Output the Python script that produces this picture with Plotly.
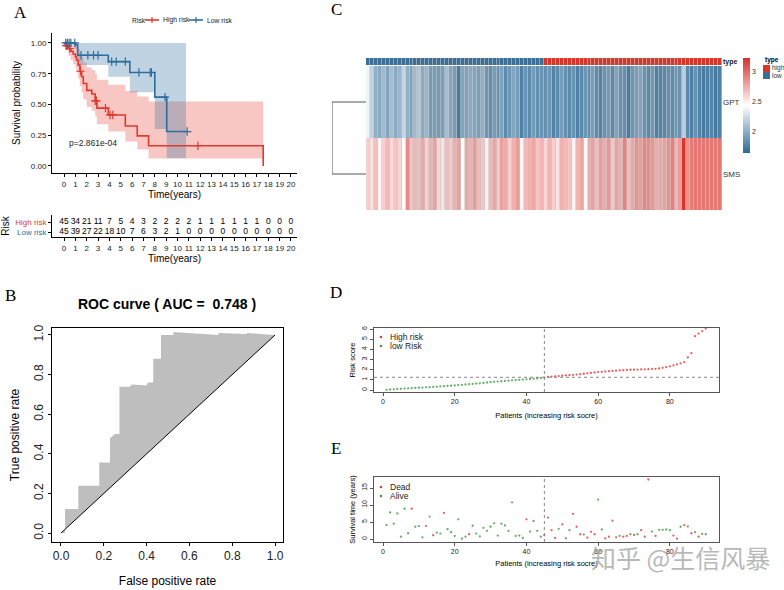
import numpy as np
import plotly.graph_objects as go

W, H = 784, 590
RED = '#DE3B2E'
BLUE = '#2E6E9E'
PT_RED = '#E23A3A'
PT_GREEN = '#3E9A45'
SANS = 'Liberation Sans'

# ---------------- A: Kaplan-Meier ----------------
high_time = [0, 0.1, 0.4, 0.6, 0.8, 1.0, 1.1, 1.25, 1.4, 1.55, 1.7, 2.0, 2.45, 2.75, 2.9, 3.9, 5.4, 6.45, 7.45, 17.55]
high_surv = [1.0, 0.978, 0.955, 0.933, 0.91, 0.887, 0.86, 0.82, 0.77, 0.725, 0.67, 0.615, 0.585, 0.53, 0.47, 0.415, 0.325, 0.245, 0.165, 0.0]
high_upper = [1.0, 1.0, 1.0, 1.0, 1.0, 1.0, 0.98, 0.95, 0.91, 0.88, 0.84, 0.80, 0.78, 0.75, 0.70, 0.66, 0.61, 0.565, 0.525, 0.525]
high_lower = [1.0, 0.94, 0.895, 0.86, 0.83, 0.80, 0.76, 0.71, 0.65, 0.60, 0.54, 0.48, 0.45, 0.40, 0.34, 0.28, 0.20, 0.135, 0.06, 0.06]
high_censor = [0.2, 0.3, 0.5, 1.45, 2.75, 2.85, 3.65, 4.05, 4.3, 11.8]

low_time = [0, 1.0, 1.2, 3.9, 5.8, 8.0, 9.05, 10.85]
low_surv = [1.0, 0.985, 0.90, 0.848, 0.76, 0.56, 0.28, 0.28]
low_band_time = [0, 1.0, 1.2, 3.9, 5.8, 8.0, 9.05, 10.75]
low_upper = [1.0, 1.0, 1.0, 1.0, 1.0, 1.0, 1.0, 1.0]
low_lower = [1.0, 0.95, 0.82, 0.726, 0.60, 0.30, 0.063, 0.063]
low_censor = [0.15, 0.3, 0.45, 0.6, 0.95, 1.5, 2.1, 2.6, 3.0, 4.2, 4.6, 5.4, 6.6, 7.6, 7.7, 8.9, 10.85]
p_text = 'p=2.861e-04'

# number at risk table
table_time = list(range(21))
high_at_risk = [45, 34, 21, 11, 7, 5, 4, 3, 2, 2, 2, 2, 1, 1, 1, 1, 1, 1, 0, 0, 0]
low_at_risk = [45, 39, 27, 22, 18, 10, 7, 6, 3, 2, 1, 0, 0, 0, 0, 0, 0, 0, 0, 0, 0]

# ---------------- B: ROC ----------------
roc_fpr = [0, 0.019, 0.019, 0.081, 0.081, 0.179, 0.179, 0.229, 0.229, 0.252, 0.273, 0.273, 0.322, 0.33,
           0.40, 0.405, 0.431, 0.431, 0.467, 0.467, 0.525, 0.525, 0.735, 0.735, 0.868, 0.868, 1.0]
roc_tpr = [0, 0, 0.121, 0.121, 0.239, 0.239, 0.356, 0.356, 0.479, 0.50, 0.50, 0.739, 0.739, 0.75,
           0.745, 0.76, 0.76, 0.88, 0.88, 1.0, 1.0, 1.015, 1.0, 1.01, 1.005, 1.01, 1.0]
auc = 0.748

# ---------------- C: heatmap ----------------
patients = list(range(1, 91))
risk_type = ['low'] * 45 + ['high'] * 45
gpt = [2.38, 2.20, 2.02, 1.99, 2.08, 1.97, 2.10, 1.99, 2.05, 2.22, 2.02, 1.95, 2.08, 2.14, 1.99,
       2.06, 1.92, 1.92, 1.91, 1.93, 2.10, 1.97, 1.92, 1.74, 1.97, 1.95, 1.99, 1.97, 1.93, 2.02,
       1.89, 1.85, 1.92, 1.87, 1.95, 1.82, 1.89, 1.97, 1.92, 1.77, 1.87, 1.82, 1.91, 1.85, 1.87,
       1.85, 1.89, 1.79, 1.83, 1.92, 1.85, 1.82, 1.87, 1.77, 1.82, 1.89, 1.85, 1.93, 1.83, 1.79,
       1.87, 1.91, 1.82, 1.95, 1.87, 1.85, 1.75, 1.89, 1.93, 1.97, 1.87, 1.82, 1.90, 1.77, 1.79,
       1.81, 1.85, 1.83, 1.89, 1.87, 2.18, 1.82, 1.77, 1.87, 1.79, 1.75, 1.77, 1.80, 1.74, 1.77]
sms = [2.62, 2.55, 2.68, 2.47, 2.62, 2.70, 2.58, 2.66, 2.60, 2.45, 2.88, 2.66, 2.72, 2.70, 2.78,
       2.62, 2.74, 2.80, 2.60, 2.55, 2.70, 2.65, 2.75, 2.80, 2.45, 2.78, 2.74, 2.82, 2.70, 2.66,
       2.50, 2.72, 2.78, 2.64, 2.80, 2.76, 2.62, 2.74, 2.82, 2.46, 2.70, 2.74, 2.78, 2.66, 2.72,
       2.60, 2.72, 2.62, 2.55, 2.74, 2.70, 2.66, 2.48, 2.72, 2.78, 2.46, 2.76, 2.80, 2.70, 2.82,
       2.76, 2.84, 2.66, 2.80, 2.74, 2.92, 2.70, 2.78, 2.86, 2.82, 2.90, 2.88, 2.84, 2.76, 2.78,
       2.80, 2.86, 2.92, 2.72, 2.82, 3.22, 2.86, 2.94, 2.96, 2.95, 2.96, 2.95, 2.96, 2.95, 2.96]
genes = ['SMS', 'GPT']
dendro_height = 1.0

# ---------------- D: risk score ----------------
risk_score = [0.02, 0.05, 0.07, 0.10, 0.12, 0.14, 0.16, 0.18, 0.20, 0.22,
              0.24, 0.26, 0.28, 0.30, 0.33, 0.35, 0.38, 0.40, 0.42, 0.45,
              0.48, 0.51, 0.54, 0.57, 0.60, 0.63, 0.66, 0.70, 0.74, 0.78,
              0.80, 0.83, 0.86, 0.89, 0.92, 0.95, 0.98, 1.00, 1.03, 1.05,
              1.08, 1.11, 1.14, 1.18, 1.22,
              1.28, 1.31, 1.34, 1.37, 1.40, 1.43, 1.46, 1.49, 1.52, 1.56,
              1.60, 1.64, 1.68, 1.72, 1.76, 1.79, 1.82, 1.85, 1.88, 1.90,
              1.93, 1.95, 1.97, 1.99, 2.00, 2.01, 2.02, 2.03, 2.04, 2.06,
              2.08, 2.12, 2.18, 2.25, 2.33, 2.42, 2.52, 2.62, 2.75, 3.20,
              3.62, 5.30, 5.55, 5.80, 6.05]

# ---------------- E: survival time / status ----------------
surv_time = [4.1, 7.8, 4.5, 7.5, 0.7, 8.9, 1.7, 8.9, 3.6, 3.8,
             0.5, 3.8, 6.6, 1.1, 1.9, 1.6, 7.7, 2.9, 2.0, 0.9,
             5.8, 0.1, 0.7, 1.4, 3.9, 1.6, 0.8, 3.3, 2.4, 3.6,
             4.6, 1.0, 4.5, 4.0, 2.4, 10.8, 0.9, 1.0, 0.3, 5.8,
             2.2, 5.3, 2.4, 0.7, 1.1, 6.3, 2.6, 0.3, 3.0, 4.3,
             0.2, 2.6, 7.4, 3.6, 1.4, 1.3, 0.4, 2.1, 1.4, 11.6,
             2.8, 0.2, 0.7, 5.4, 0.5, 0.9, 0.7, 0.9, 1.4, 1.2,
             1.4, 2.6, 0.7, 17.5, 2.2, 0.9, 2.7, 2.7, 2.8, 2.6,
             1.0, 0.1, 3.6, 4.1, 3.7, 1.7, 2.0, 0.7, 1.5, 1.4]
status = ['Alive', 'Alive', 'Alive', 'Alive', 'Alive', 'Alive', 'Alive', 'Dead', 'Alive', 'Alive',
          'Alive', 'Dead', 'Alive', 'Dead', 'Alive', 'Alive', 'Dead', 'Alive', 'Alive', 'Alive',
          'Alive', 'Alive', 'Alive', 'Dead', 'Alive', 'Alive', 'Alive', 'Alive', 'Alive', 'Alive',
          'Alive', 'Alive', 'Alive', 'Alive', 'Alive', 'Alive', 'Alive', 'Alive', 'Alive', 'Dead',
          'Alive', 'Alive', 'Alive', 'Alive', 'Dead', 'Dead', 'Dead', 'Dead', 'Alive', 'Dead',
          'Dead', 'Alive', 'Dead', 'Dead', 'Dead', 'Alive', 'Dead', 'Dead', 'Dead', 'Alive',
          'Alive', 'Dead', 'Dead', 'Dead', 'Dead', 'Alive', 'Dead', 'Dead', 'Alive', 'Dead',
          'Alive', 'Dead', 'Dead', 'Dead', 'Alive', 'Dead', 'Alive', 'Alive', 'Alive', 'Alive',
          'Dead', 'Dead', 'Alive', 'Dead', 'Alive', 'Dead', 'Alive', 'Dead', 'Alive', 'Alive']


def dx(a, b):
    return [a / W, b / W]


def dy(top, bottom):
    return [1 - bottom / H, 1 - top / H]


def step_value(times, surv, t):
    idx = np.searchsorted(times, t, side='right') - 1
    return [surv[i] for i in idx]


fig = go.Figure()

# ---- A: bands, curves, censor marks ----
for t, lo, up, fillc in [(high_time, high_lower, high_upper, 'rgba(231,70,55,0.30)'),
                         (low_band_time, low_lower, low_upper, 'rgba(46,110,158,0.30)')]:
    fig.add_trace(go.Scatter(x=t, y=lo, mode='lines', line=dict(width=0, shape='hv'), hoverinfo='skip'))
    fig.add_trace(go.Scatter(x=t, y=up, mode='lines', line=dict(width=0, shape='hv'),
                             fill='tonexty', fillcolor=fillc, hoverinfo='skip'))

for name, t, s, cens, col in [('High risk', high_time, high_surv, high_censor, RED),
                              ('Low risk', low_time, low_surv, low_censor, BLUE)]:
    fig.add_trace(go.Scatter(x=t, y=s, mode='lines', name=name,
                             line=dict(color=col, width=1.6, shape='hv')))
    fig.add_trace(go.Scatter(x=cens, y=step_value(t, s, cens), mode='markers',
                             marker=dict(symbol='cross-thin', size=6, line=dict(color=col, width=1.2))))

# risk table
for label, counts in [('High risk', high_at_risk), ('Low risk', low_at_risk)]:
    fig.add_trace(go.Scatter(x=table_time, y=[label] * len(counts), text=counts, mode='text',
                             textfont=dict(size=8.5, family=SANS, color='black'),
                             xaxis='x2', yaxis='y2', hoverinfo='skip'))

# ---- B: ROC ----
fig.add_trace(go.Scatter(x=roc_fpr + [0], y=roc_tpr + [0], mode='lines', fill='toself',
                         fillcolor='#BEBEBE', line=dict(width=0), xaxis='x3', yaxis='y3', hoverinfo='skip'))

# ---- C: heatmap ----
fig.add_trace(go.Heatmap(x=patients, y=genes, z=[sms, gpt], xaxis='x4', yaxis='y4', xgap=0.6,
                         zmin=1.65, zmax=3.23,
                         colorscale=[[0, '#2E6A95'], [0.5, '#FFFFFF'], [1, '#D7302A']],
                         colorbar=dict(x=743 / W, xanchor='left', y=1 - 58 / H, yanchor='top',
                                       xpad=0, ypad=0, len=95, lenmode='pixels', thickness=7,
                                       outlinewidth=0, tickvals=[2, 2.5, 3], ticks='',
                                       tickfont=dict(size=7, family=SANS, color='#333'))))
fig.add_trace(go.Heatmap(x=patients, y=['type'], z=[[1 if r == 'high' else 0 for r in risk_type]],
                         xaxis='x4', yaxis='y5', xgap=0.6, showscale=False, zmin=0, zmax=1,
                         colorscale=[[0, '#3A6E97'], [0.5, '#3A6E97'], [0.5, '#D6372B'], [1, '#D6372B']]))
fig.add_trace(go.Scatter(x=[0, dendro_height, dendro_height, 0], y=['GPT', 'GPT', 'SMS', 'SMS'],
                         mode='lines', line=dict(color='#555', width=1), xaxis='x5', yaxis='y4',
                         hoverinfo='skip'))

# ---- D: risk score ----
n_low = risk_type.count('low')
for sel, col in [(slice(n_low, None), PT_RED), (slice(0, n_low), PT_GREEN)]:
    fig.add_trace(go.Scatter(x=patients[sel], y=risk_score[sel], mode='markers',
                             marker=dict(color=col, size=2.3, opacity=0.8), xaxis='x6', yaxis='y6'))

# ---- E: survival status ----
for name, col in [('Dead', PT_RED), ('Alive', PT_GREEN)]:
    xs = [p for p, s in zip(patients, status) if s == name]
    ys = [t for t, s in zip(surv_time, status) if s == name]
    fig.add_trace(go.Scatter(x=xs, y=ys, mode='markers', name=name,
                             marker=dict(color=col, size=2.3, opacity=0.8), xaxis='x7', yaxis='y7'))

median_score = float(np.median(risk_score))


def px_line(x0, x1, y0, y1, col, width=1.6):
    return dict(type='line', xref='paper', yref='paper', x0=x0 / W, x1=x1 / W, y0=1 - y0 / H, y1=1 - y1 / H,
                line=dict(color=col, width=width))


def px_dot(x, y, col, r=1.3):
    return dict(type='circle', xref='paper', yref='paper', x0=(x - r) / W, x1=(x + r) / W,
                y0=1 - (y + r) / H, y1=1 - (y - r) / H, fillcolor=col, line=dict(width=0))


shapes = [
    dict(type='line', xref='x3', yref='y3', x0=0, y0=0, x1=1, y1=1, line=dict(color='black', width=1)),
    dict(type='rect', xref='x4 domain', yref='y4 domain', x0=0, x1=1, y0=0, y1=1,
         fillcolor='#C8C8C8', line=dict(width=0), layer='below'),
    dict(type='rect', xref='x4 domain', yref='y5 domain', x0=0, x1=1, y0=0, y1=1,
         fillcolor='#C8C8C8', line=dict(width=0), layer='below'),
    dict(type='line', xref='x6', yref='y6 domain', x0=n_low, x1=n_low, y0=0, y1=1,
         line=dict(color='#888', width=1, dash='dot')),
    dict(type='line', xref='x6 domain', yref='y6', x0=0, x1=1, y0=median_score, y1=median_score,
         line=dict(color='#888', width=1, dash='dot')),
    dict(type='line', xref='x7', yref='y7 domain', x0=n_low, x1=n_low, y0=0, y1=1,
         line=dict(color='#888', width=1, dash='dot')),
    # type legend keys
    dict(type='rect', xref='paper', yref='paper', x0=763 / W, x1=770 / W, y0=1 - 72 / H, y1=1 - 65 / H,
         fillcolor='#D6372B', line=dict(width=0)),
    dict(type='rect', xref='paper', yref='paper', x0=763 / W, x1=770 / W, y0=1 - 79 / H, y1=1 - 72 / H,
         fillcolor='#3A6E97', line=dict(width=0)),
    # KM legend keys (line with a censor cross)
    px_line(145, 159, 20, 20, RED), px_line(152, 152, 17, 23, RED, 1.2),
    px_line(189, 203, 20, 20, BLUE), px_line(196, 196, 17, 23, BLUE, 1.2),
    # D / E legend keys
    px_dot(381, 337, PT_RED), px_dot(381, 346, PT_GREEN),
    px_dot(381, 487, PT_RED), px_dot(381, 496, PT_GREEN),
]


def ann(text, x, y, size, **kw):
    d = dict(text=text, x=x / W, y=1 - y / H, xref='paper', yref='paper', showarrow=False,
             xanchor='center', yanchor='middle',
             font=dict(size=size, family=kw.pop('family', SANS), color=kw.pop('color', 'black')))
    d.update(kw)
    return d


annotations = [
    ann('A', 20, 12, 17, family='Liberation Serif'),
    ann('B', 10, 295, 17, family='Liberation Serif'),
    ann('C', 336, 10, 17, family='Liberation Serif'),
    ann('D', 336, 292, 17, family='Liberation Serif'),
    ann('E', 336, 448, 17, family='Liberation Serif'),
    dict(text=p_text, x=0.3, y=0.19, xref='x', yref='y', xanchor='left', yanchor='middle', showarrow=False,
         font=dict(size=8.5, family=SANS, color='#222')),
    ann('<b>ROC curve ( AUC =  %.3f )</b>' % auc, 167, 304, 14),
    ann('<b>type</b>', 763, 60, 6.5, xanchor='left'),
    ann('high', 770, 68, 6.5, xanchor='left', color='#333'),
    ann('low', 770, 76, 6.5, xanchor='left', color='#333'),
    # KM legend
    ann('Risk', 130, 20, 6.8, xanchor='left', color='#222'),
    ann('High risk', 161, 20, 6.8, xanchor='left', color='#222'),
    ann('Low risk', 205, 20, 6.8, xanchor='left', color='#222'),
    # D / E legends
    ann('High risk', 388, 337, 8.5, xanchor='left', color='#222'),
    ann('low Risk', 388, 346, 8.5, xanchor='left', color='#222'),
    ann('Dead', 388, 487, 8.5, xanchor='left', color='#222'),
    ann('Alive', 388, 496, 8.5, xanchor='left', color='#222'),
    ann('知乎 @生信风暴', 680, 557, 25, family='Noto Sans CJK SC', color='rgba(165,165,165,0.8)'),
]

ax = dict(showline=True, linecolor='black', linewidth=1, ticks='outside', ticklen=3,
          tickcolor='black', showgrid=False, zeroline=False)
box = dict(ax, mirror=True, linecolor='#555', tickcolor='#555')
hidden = dict(visible=False, showgrid=False, zeroline=False)
small_font = dict(size=7, family=SANS, color='#222')

fig.update_layout(
    width=W, height=H, margin=dict(l=0, r=0, t=0, b=0), template='none',
    paper_bgcolor='white', plot_bgcolor='rgba(0,0,0,0)', font=dict(family=SANS, color='black'),
    showlegend=False,
    xaxis=dict(ax, domain=dx(52, 297), range=[-1.06, 20.53], anchor='y', tickvals=table_time, tickangle=0,
               tickfont=dict(size=8, color='#222'),
               title=dict(text='Time(years)', font=dict(size=10), standoff=1)),
    yaxis=dict(ax, domain=dy(33, 173), range=[-0.057, 1.081], anchor='x',
               tickvals=[0, 0.25, 0.5, 0.75, 1.0], tickformat='.2f', tickfont=dict(size=8, color='#222'),
               title=dict(text='Survival probability', font=dict(size=10), standoff=8)),
    xaxis2=dict(ax, domain=dx(52, 297), range=[-1.06, 20.53], anchor='y2', tickvals=table_time, tickangle=0,
                tickfont=dict(size=8, color='#222'),
                title=dict(text='Time(years)', font=dict(size=10), standoff=1)),
    yaxis2=dict(ax, domain=dy(215, 237), range=[-0.5, 1.7], anchor='x2', type='category',
                categoryorder='array', categoryarray=['Low risk', 'High risk'],
                tickvals=['High risk', 'Low risk'],
                ticktext=['<span style="color:%s">High risk</span>' % RED,
                          '<span style="color:%s">Low risk</span>' % BLUE],
                tickfont=dict(size=8),
                title=dict(text='Risk', font=dict(size=10), standoff=3)),
    xaxis3=dict(box, linecolor='black', tickcolor='black', domain=dx(52, 283), range=[-0.042, 1.037],
                anchor='y3', tickvals=[0, 0.2, 0.4, 0.6, 0.8, 1.0], tickformat='.1f', ticklen=3,
                tickfont=dict(size=12, color='#222'),
                title=dict(text='False positive rate', font=dict(size=12), standoff=14)),
    yaxis3=dict(box, linecolor='black', tickcolor='black', domain=dy(328, 542), range=[-0.045, 1.035],
                anchor='x3', tickvals=[0, 0.2, 0.4, 0.6, 0.8, 1.0], tickformat='.1f', ticklen=3,
                tickangle=-90, tickfont=dict(size=12, color='#222'),
                title=dict(text='True positive rate', font=dict(size=12), standoff=10)),
    xaxis4=dict(hidden, domain=dx(366, 722), range=[0.5, 90.5], anchor='y4'),
    yaxis4=dict(domain=dy(66, 210), anchor='x4', side='right', showline=False, ticks='',
                showgrid=False, zeroline=False, type='category', categoryorder='array',
                categoryarray=genes, tickfont=dict(size=8, color='#333')),
    yaxis5=dict(domain=dy(58, 65), anchor='x4', side='right', showline=False, ticks='',
                showgrid=False, zeroline=False, tickfont=dict(size=7, color='#222', weight='bold')),
    xaxis5=dict(hidden, domain=dx(332, 366), range=[dendro_height, 0], anchor='y4'),
    xaxis6=dict(box, domain=dx(374, 719), range=[-2.51, 93.7], anchor='y6', dtick=20,
                tickfont=small_font,
                title=dict(text='Patients (increasing risk socre)', font=dict(size=7.5), standoff=8)),
    yaxis6=dict(box, domain=dy(328, 392), range=[-0.197, 6.10], anchor='x6', dtick=1, tickangle=-90,
                tickfont=small_font, title=dict(text='Risk score', font=dict(size=7.5), standoff=4)),
    xaxis7=dict(box, domain=dx(374, 719), range=[-2.51, 93.7], anchor='y7', dtick=20,
                tickfont=small_font,
                title=dict(text='Patients (increasing risk socre)', font=dict(size=7.5), standoff=6)),
    yaxis7=dict(box, domain=dy(477, 542), range=[-0.88, 18.24], anchor='x7', dtick=5, tickangle=-90,
                tickfont=small_font,
                title=dict(text='Survival time (years)', font=dict(size=7.5), standoff=4)),
    shapes=shapes, annotations=annotations,
)

fig.write_html('out.html', config={'displayModeBar': False},
               post_script="document.body.style.margin='0px';")
